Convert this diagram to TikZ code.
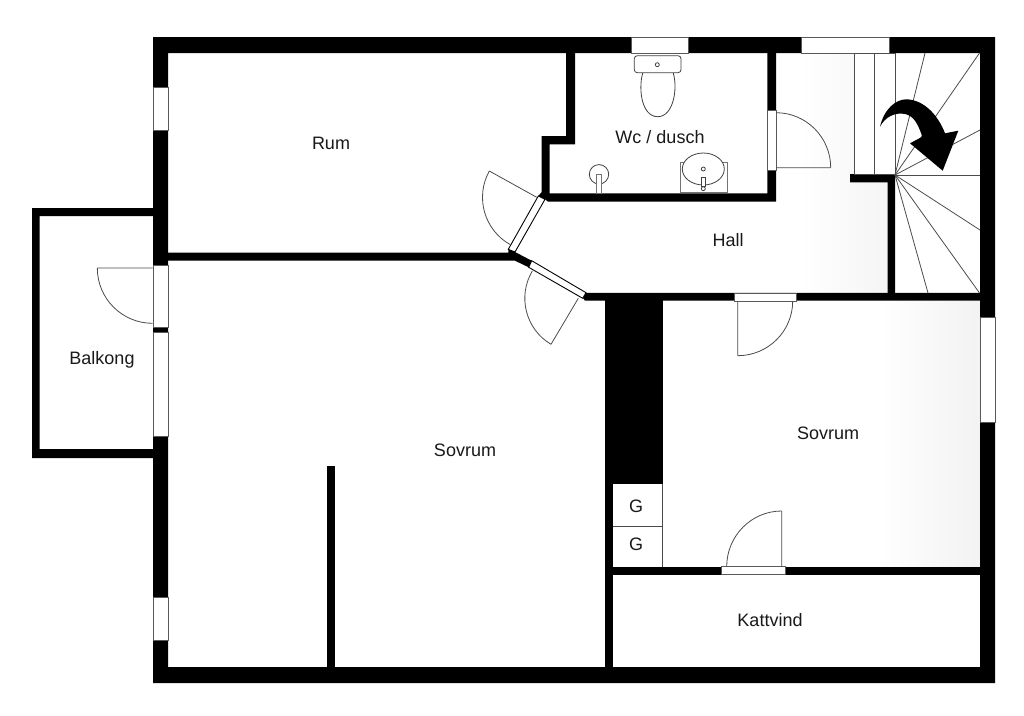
\documentclass[tikz,border=0pt]{standalone}
\usepackage{fontspec}
\setmainfont{Liberation Sans}
\usetikzlibrary{calc}
\tikzset{
  wall/.style={fill=black,draw=none},
  winbox/.style={fill=white,draw=black!65,line width=0.8pt},
  thin line/.style={draw=black!70,line width=0.8pt},
  fixture/.style={draw=black!75,fill=white,line width=0.8pt},
  room/.style={font=\fontsize{18}{20}\selectfont,text=black!90,inner sep=0pt}
}
\newcommand{\doorleaf}[3]{%
  \draw[thin line] (#2) -- (#1) (#2) .. controls ($(#2)+0.5523*(#3)-0.5523*(#1)$) and ($(#3)+0.5523*(#2)-0.5523*(#1)$) .. (#3);}
\begin{document}
\begin{tikzpicture}[x=1pt,y=-1pt]
\useasboundingbox (0,0) rectangle (1024,715);
\fill[white] (0,0) rectangle (1024,715);
% soft shading
\shade[left color=white,right color=black!5,draw=none] (880,301) rectangle (980,566);
\shade[left color=white,right color=black!4,draw=none] (800,53) rectangle (888,293);
\fill[white] (895,53) rectangle (980,293);
% outer walls
\fill[wall,even odd rule] (153,37) rectangle (995,683) (168,53) rectangle (980,667);
\fill[wall,even odd rule] (32,208) rectangle (153,458) (39.5,216) rectangle (153,449);
% Rum / Sovrum wall with bevel
\fill[wall] (168,252.7) -- (508.3,252.7) -- (508.3,249.3) -- (515,252) -- (531.7,260.7) -- (528.7,267.3) -- (515,260.7) -- (168,260.7) -- cycle;
% wc walls
\fill[wall] (566,53) -- (575,53) -- (575,144.3) -- (549.7,144.3) -- (549.7,193.3) -- (767.3,193.3) -- (767.3,53) -- (776,53) -- (776,201.7) -- (548,201.7) -- (545,199.3) -- (538.3,196) -- (541.7,192) -- (541.7,136) -- (566,136) -- cycle;
% hall bottom wall
\fill[wall] (583,298) -- (586,292.9) -- (980,292.9) -- (980,300.7) -- (585,300.7) -- cycle;
% stair walls
\fill[wall] (850,174) -- (895,174) -- (895,295) -- (887.7,295) -- (887.7,182.3) -- (850,182.3) -- cycle;
% chimney
\fill[wall] (605,300) rectangle (663,484);
\fill[wall] (605,484) rectangle (612.5,667);
% lower wall
\fill[wall] (605,566.7) rectangle (980,574.7);
% short partition
\fill[wall] (327,466) rectangle (335,667);
% windows
\draw[winbox] (153,87) rectangle (168,130);
\draw[winbox] (153,265) rectangle (168,327);
\draw[winbox] (153,332) rectangle (168,436);
\draw[winbox] (153,597) rectangle (168,640);
\draw[winbox] (631,37.5) rectangle (688,53);
\draw[winbox] (801,37.5) rectangle (889,53);
\draw[winbox] (980,317) rectangle (995,422);
\draw[winbox] (767.5,110) rectangle (776,170.7);
\draw[winbox] (734.3,293) rectangle (796,301);
\draw[winbox] (721.7,566.7) rectangle (785.3,574.7);
\draw[fill=white,draw=black,line width=0.9pt] (508.3,249.3) -- (538.3,196) -- (545,199.3) -- (515,252) -- cycle;
\draw[fill=white,draw=black,line width=0.9pt] (531.7,260.7) -- (586,292.7) -- (582.7,298.3) -- (528.7,267.3) -- cycle;
% gas boxes
\draw[thin line] (612.5,526) -- (662.5,526);
\draw[thin line] (662.5,484) -- (662.5,566.7);
% doors
\coordinate (d1c) at (536.7,197.3); \coordinate (d1a) at (489.3,171); \coordinate (d1b) at (510.4,244.7);
\doorleaf{d1c}{d1a}{d1b}
\coordinate (d2c) at (578.3,298.3); \coordinate (d2a) at (551,344.3); \coordinate (d2b) at (532.3,271);
\doorleaf{d2c}{d2a}{d2b}
\coordinate (d3c) at (776,167.7); \coordinate (d3a) at (830.7,167.7); \coordinate (d3b) at (776,112.7);
\doorleaf{d3c}{d3a}{d3b}
\coordinate (d4c) at (737.7,301); \coordinate (d4a) at (737.7,355.7); \coordinate (d4b) at (792.7,301);
\doorleaf{d4c}{d4a}{d4b}
\coordinate (d5c) at (781.7,566.7); \coordinate (d5a) at (781.7,511); \coordinate (d5b) at (726.7,566.7);
\doorleaf{d5c}{d5a}{d5b}
\coordinate (d6c) at (152.6,268); \coordinate (d6a) at (97.3,268); \coordinate (d6b) at (152.6,323.3);
\doorleaf{d6c}{d6a}{d6b}
% stairs
\draw[thin line,fill=white] (854.7,53) rectangle (895,174);
\draw[thin line] (874.7,53) -- (874.7,174);
\coordinate (fan) at (895,175);
\foreach \p in {(925,53),(979.5,53),(980,130),(980,175),(980,230),(979.5,293),(928,293)}
  \draw[thin line] (fan) -- \p;
% arrow
\fill[black] (880,126.7) .. controls (884,109) and (896,99) .. (906.7,99.3)
  .. controls (924,100) and (938,115) .. (945,133.3)
  -- (958.3,130.7) -- (942.7,170.7) -- (910,143.3) -- (922.3,136.7)
  .. controls (918,124) and (914,116) .. (905,114)
  .. controls (895,112) and (885,117) .. (880,126.7) -- cycle;
% toilet
\draw[fixture] (642.7,73) .. controls (638,90) and (642,116.7) .. (657.7,116.7)
  .. controls (673,116.7) and (678,90) .. (673.3,73);
\draw[fixture,rounded corners=3pt] (634.3,55.7) rectangle (681,72.7);
\draw[fixture] (657.3,64.7) circle[radius=2];
% shower
\draw[fixture] (599,174.3) circle[radius=9.7];
\draw[fixture,draw=black!55] (596.7,174.5) rectangle (601.7,193.3);
% sink
\draw[fixture,draw=black!55] (680,162.7) rectangle (727.7,192.7);
\draw[fixture] (703.3,169) ellipse[x radius=21,y radius=16];
\draw[fixture] (703.3,169) circle[radius=2];
\draw[fixture] (701.7,177.7) rectangle (705,186.7);
\draw[fixture] (703.3,188.7) circle[radius=2];
% labels
\node[room] (rum) at (331,143) {Rum};
\node[room] (wc) at (660,137) {Wc / dusch};
\node[room] (hall) at (728,240) {Hall};
\node[room] (balkong) at (102,359.5) {Balkong};
\node[room] (sov1) at (465,450) {Sovrum};
\node[room] (sov2) at (828,433) {Sovrum};
\node[room] (katt) at (770,620) {Kattvind};
\node[room] (g1) at (636,506) {G};
\node[room] (g2) at (636,544) {G};
\end{tikzpicture}
\end{document}
